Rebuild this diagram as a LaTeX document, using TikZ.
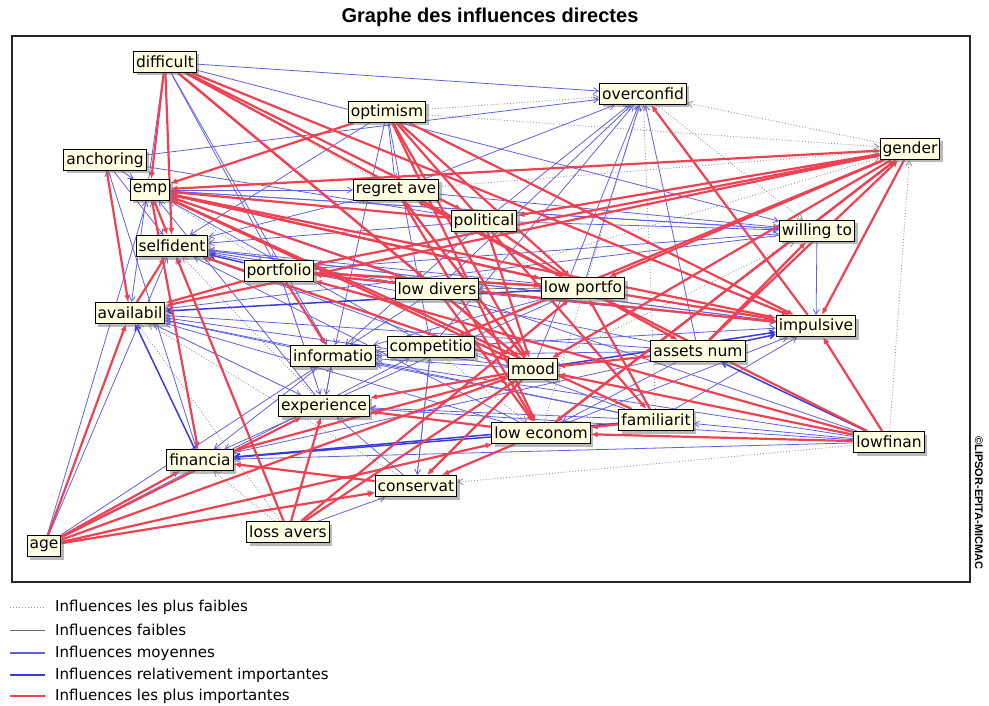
\documentclass[tikz,border=0pt]{standalone}
\usepackage{fontspec}
\setmainfont{Liberation Sans}
\newfontfamily\boxfont{DejaVu Sans}
\usetikzlibrary{arrows.meta,shadows,backgrounds}
\definecolor{boxfill}{RGB}{255,255,226}
\definecolor{strongred}{RGB}{238,66,82}
\definecolor{midblue}{RGB}{96,96,230}
\definecolor{deepblue}{RGB}{58,58,222}
\definecolor{weakgray}{RGB}{150,150,150}

\begin{document}
\begin{tikzpicture}[x=1pt, y=-1pt,
    var/.style={draw=black, line width=1pt, fill=boxfill, font=\boxfont\fontsize{15.5}{16}\selectfont,
        inner xsep=2.5pt, inner ysep=1pt, minimum height=21pt,
        drop shadow={shadow xshift=3pt, shadow yshift=-3pt, fill=black!55}},
    plusfort/.style={draw=strongred, line width=2.2pt, -{Latex[length=7pt,width=6pt]}},
    relfort/.style={draw=deepblue, line width=1.5pt, -{Straight Barb[length=5pt,width=6pt]}},
    moyen/.style={draw=midblue, line width=0.8pt, -{Straight Barb[length=5pt,width=6pt]}},
    faible/.style={draw=weakgray!70!black, line width=0.7pt, -{Straight Barb[length=5pt,width=6pt]}},
    plusfaible/.style={draw=weakgray, line width=0.9pt, dotted, -{Straight Barb[length=5pt,width=6pt]}},
    legtext/.style={anchor=west, inner sep=0pt, font=\boxfont\fontsize{15}{16}\selectfont}]
    \useasboundingbox (0,0) rectangle (989,706);

    \node (title) at (490,17) {\fontsize{20}{22}\selectfont\bfseries Graphe des influences directes};
    \draw[line width=1.5pt, black!85] (12,36) rectangle (970,582);
    \node[rotate=-90, font=\fontsize{11}{12}\selectfont\bfseries] (copy) at (979,503) {©LIPSOR-EPITA-MICMAC};

    \node[var] (dif) at (165,62) {difficult};
    \node[var] (ovc) at (643,94) {overconfid};
    \node[var] (opt) at (387,112) {optimism};
    \node[var] (gen) at (910,149) {gender};
    \node[var] (anc) at (105,160) {anchoring};
    \node[var] (emp) at (150,190) {emp};
    \node[var] (reg) at (396,190) {regret ave};
    \node[var] (pol) at (484,221) {political};
    \node[var] (wil) at (817,231) {willing to};
    \node[var] (sel) at (172,246) {selfident};
    \node[var] (por) at (279,271) {portfolio};
    \node[var] (ldv) at (437,289) {low divers};
    \node[var] (lpf) at (583,288) {low portfo};
    \node[var] (ava) at (130,313) {availabil};
    \node[var] (imp) at (816,326) {impulsive};
    \node[var] (inf) at (333,356) {informatio};
    \node[var] (com) at (431,347) {competitio};
    \node[var] (moo) at (533,369) {mood};
    \node[var] (ass) at (698,351) {assets num};
    \node[var] (exp) at (324,406) {experience};
    \node[var] (fam) at (656,420) {familiarit};
    \node[var] (lec) at (541,433) {low econom};
    \node[var] (lfi) at (889,442) {lowfinan};
    \node[var] (fin) at (200,460) {financia};
    \node[var] (con) at (416,486) {conservat};
    \node[var] (los) at (288,532) {loss avers};
    \node[var] (age) at (44,546) {age};

    \begin{scope}[on background layer]
        \foreach \a/\b in {lfi/con, lfi/gen, gen/ovc, opt/ovc, opt/gen, lec/ovc, fam/ovc, con/ava, los/ava,
                age/con, exp/sel, reg/gen, anc/por, sel/ldv, com/lec, pol/gen, moo/wil, ava/exp, los/fin,
                ovc/wil, dif/reg, ldv/gen}
            \draw[plusfaible] (\a) -- (\b);
        \foreach \a/\b in {exp/inf, con/com, ava/anc, lpf/ldv}
            \draw[faible] (\a) -- (\b);
        \foreach \a/\b in {dif/ovc, dif/por, dif/inf, dif/wil, dif/ava,
                opt/inf, opt/com, opt/sel, opt/reg,
                anc/emp, anc/fin, anc/pol, anc/ovc, anc/sel,
                pol/ovc, pol/inf, pol/sel, pol/wil,
                reg/ovc, reg/wil, reg/sel,
                ldv/ovc, ldv/sel, ldv/inf, ldv/imp,
                lpf/ovc, lpf/sel, lpf/inf, lpf/fin,
                moo/ovc, moo/inf, moo/ava,
                com/inf, com/con, com/emp, com/ovc, com/imp,
                ass/sel, ass/ava, ass/inf, ass/fin, ass/ovc, ass/lec,
                fam/ava, fam/sel, fam/exp, fam/inf, fam/imp,
                lec/ava, lec/sel, lec/imp,
                imp/emp, imp/sel,
                wil/emp, wil/ava, wil/imp,
                inf/ava, inf/exp, inf/fin,
                exp/ava, exp/emp, fin/emp,
                por/imp, por/wil, por/exp,
                emp/wil, emp/reg, sel/imp,
                lfi/fam, lfi/fin, lfi/inf, lfi/exp, lfi/emp,
                con/exp, los/con, los/sel,
                age/sel, age/inf, age/emp, age/com}
            \draw[moyen] (\a) -- (\b);
        \foreach \a/\b in {ass/imp, por/sel, moo/imp, lpf/ava, lec/fin, fam/fin, fin/ava, lfi/ass}
            \draw[relfort] (\a) -- (\b);
        \foreach \a/\b in {dif/emp, dif/sel, dif/pol, dif/ldv, dif/lpf, dif/moo, dif/imp,
                opt/emp, opt/moo, opt/lec, opt/imp, opt/lpf, opt/fam,
                gen/emp, gen/por, gen/pol, gen/imp, gen/lpf, gen/moo, gen/lec, gen/com, gen/ava,
                anc/ava,
                emp/sel, emp/fin, emp/lpf, emp/imp,
                reg/moo, reg/lec,
                pol/emp, pol/lpf, pol/moo,
                por/ava, por/inf, por/lpf,
                ldv/moo, ldv/lec, ldv/emp,
                lpf/imp, lpf/ass, lpf/emp, lpf/reg, lpf/por,
                ava/sel,
                imp/ovc, imp/por,
                moo/emp, moo/sel, moo/reg, moo/exp, moo/fin, moo/con,
                ass/wil, ass/moo, ass/gen,
                fam/lec, fam/lpf, fam/emp,
                lec/exp, lec/con, lec/gen,
                lfi/imp, lfi/lec, lfi/moo, lfi/lpf, lfi/por,
                con/fin,
                los/sel, los/exp, los/moo, los/lpf,
                age/ava, age/fin, age/exp, age/con, age/lec, age/moo}
            \draw[plusfort] (\a) -- (\b);
    \end{scope}

    \draw[weakgray, line width=1pt, dotted] (10,607) -- (45,607);
    \draw[weakgray!70!black, line width=1pt] (10,630) -- (45,630);
    \draw[midblue, line width=1.2pt] (10,653) -- (45,653);
    \draw[deepblue, line width=2pt] (10,675) -- (45,675);
    \draw[strongred, line width=2pt] (10,696) -- (45,696);
    \node[legtext] (leg1) at (55,607) {Influences les plus faibles};
    \node[legtext] (leg2) at (55,630) {Influences faibles};
    \node[legtext] (leg3) at (55,653) {Influences moyennes};
    \node[legtext] (leg4) at (55,675) {Influences relativement importantes};
    \node[legtext] (leg5) at (55,696) {Influences les plus importantes};
\end{tikzpicture}
\end{document}
